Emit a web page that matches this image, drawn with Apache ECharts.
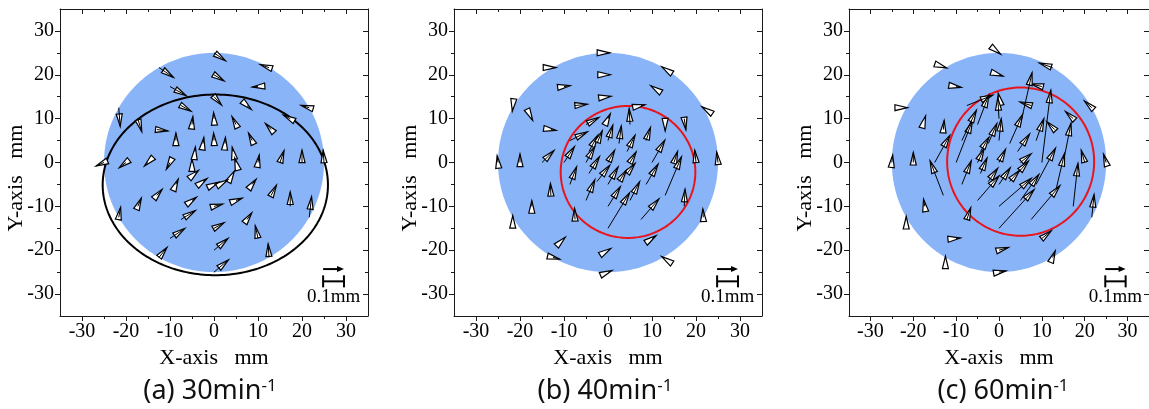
<!DOCTYPE html>
<html>
<head>
<meta charset="utf-8">
<script src="https://cdn.jsdelivr.net/npm/echarts@6/dist/echarts.min.js"></script>
<style>html,body{margin:0;padding:0;background:#fff}#c{width:1149px;height:409px}</style>
</head>
<body>
<div id="c"></div>
<script>
// measurement points (mm): rings r=25,20,15,10,5 (12 points each) + centre
const gridX = [0,12.5,21.65,25,21.65,12.5,0,-12.5,-21.65,-25,-21.65,-12.5,
  0,10,17.32,20,17.32,10,0,-10,-17.32,-20,-17.32,-10,
  0,7.5,12.99,15,12.99,7.5,0,-7.5,-12.99,-15,-12.99,-7.5,
  0,5,8.66,10,8.66,5,0,-5,-8.66,-10,-8.66,-5,
  0,2.5,4.33,5,4.33,2.5,0,-2.5,-4.33,-5,-4.33,-2.5,
  0];
const gridY = [25,21.65,12.5,0,-12.5,-21.65,-25,-21.65,-12.5,0,12.5,21.65,
  20,17.32,10,0,-10,-17.32,-20,-17.32,-10,0,10,17.32,
  15,12.99,7.5,0,-7.5,-12.99,-15,-12.99,-7.5,0,7.5,12.99,
  10,8.66,5,0,-5,-8.66,-10,-8.66,-5,0,5,8.66,
  5,4.33,2.5,0,-2.5,-4.33,-5,-4.33,-2.5,0,2.5,4.33,
  0];
// displacement vectors (micrometres), (a) 30 min-1
const uA = [55,-42,-39,-4,11,-4,69,38,9,-38,7,69,
  48,-27,-32,0,0,-13,67,71,17,-32,19,78,
  36,21,-27,19,25,23,49,68,25,-17,53,48,
  -2,-19,-17,6,19,29,42,21,11,-17,0,4,
  -2,2,-4,-6,6,12,23,19,17,0,2,4,
  null];
const vA = [-38,14,11,59,99,65,59,48,48,-17,-90,-47,
  -29,-2,17,59,69,61,57,48,40,-25,-63,-44,
  -40,-19,29,57,48,32,27,42,29,-17,-6,-27,
  29,38,36,36,25,11,11,15,25,-32,36,38,
  36,29,21,21,11,7,11,14,15,17,21,29,
  null];
// (b) 40 min-1
const uB = [8,-6,-6,-6,-2,-6,19,32,0,-4,-2,13,
  11,-6,8,-6,4,19,13,6,0,0,4,29,
  15,19,0,17,78,86,103,-2,-2,57,25,59,
  11,-4,21,61,57,46,59,42,32,50,84,61,
  23,11,38,29,38,36,48,61,50,42,42,25,
  32];
const vB = [0,4,4,50,40,4,8,-8,8,32,-17,0,
  0,4,-53,59,82,13,8,6,27,40,-8,4,
  2,4,-6,53,185,99,170,53,57,57,-4,6,
  23,76,63,107,97,90,95,99,84,76,42,34,
  74,84,78,50,48,55,84,78,80,76,78,61,
  59];
// (c) 60 min-1
const uC = [8,-65,-36,-13,11,13,34,0,0,4,6,6,
  19,-53,-38,-17,23,46,46,21,-6,0,4,25,
  -4,-55,-38,38,48,141,172,19,-65,74,4,128,
  -6,57,38,44,95,90,158,105,46,80,71,55,
  11,63,59,53,53,48,55,46,32,32,42,42,
  32];
const vC = [-6,21,32,40,109,32,6,6,4,36,0,-2,
  -6,13,34,59,206,36,13,2,34,48,13,-4,
  17,17,38,189,200,162,185,57,166,130,44,50,
  101,248,105,347,173,124,134,118,113,200,145,141,
  105,139,84,42,59,53,80,63,74,67,69,95,
  63];
// outlines: [cx, cy, rx, ry] (mm)
const discOutline = [0, 0, 25, 25];
const ellipseA = [0.3, -5.1, 25.6, 20.6];
const circleB = [4.55, -2.15, 15.3, 15.05];
const circleC = [5.05, 0.2, 17.15, 16.9];
const majorTicks = [-30,-20,-10,0,10,20,30];
const minorTicks = [-25,-15,-5,5,15,25];
const panelTitles = ['(a) 30min', '(b) 40min', '(c) 60min'];
const scaleBarUm = 100;
const scaleBarLabel = '0.1mm';

const VS = 4.75 / 100;      // plot mm per micrometre of displacement
const HL = 12.5, HW = 3.0;  // arrow head length / half width (px)
const SERIF = 'Liberation Serif';
const FRAME = '#1a1a1a';
const GRIDS = [{left:60, top:9, width:308, height:307},
               {left:454, top:9, width:308, height:307},
               {left:849, top:9, width:308, height:307}];

function buildArrows(u, v) {
  const out = [];
  for (let i = 0; i < gridX.length; i++) {
    if (u[i] === null) continue;
    out.push([gridX[i], gridY[i], u[i], v[i]]);
  }
  return out;
}

function arrowItem(params, api) {
  const x = api.value(0), y = api.value(1), u = api.value(2), v = api.value(3);
  const p0 = api.coord([x, y]);
  const p1 = api.coord([x + u * VS, y + v * VS]);
  const dx = p1[0] - p0[0], dy = p1[1] - p0[1];
  const len = Math.hypot(dx, dy) || 1;
  const ux = dx / len, uy = dy / len;
  const bx = p1[0] - ux * HL, by = p1[1] - uy * HL;
  const nx = -uy * HW, ny = ux * HW;
  return {type:'group', children:[
    {type:'polygon', shape:{points:[[p1[0],p1[1]],[bx+nx,by+ny],[bx-nx,by-ny]]},
     style:{fill:'#ffffff', stroke:'#000', lineWidth:1.2, lineJoin:'miter'}},
    {type:'line', shape:{x1:p0[0],y1:p0[1],x2:p1[0],y2:p1[1]},
     style:{stroke:'#000', lineWidth:1}}
  ]};
}

function ellipseSeries(gi, params, fill, stroke, lw) {
  return {type:'custom', xAxisIndex:gi*4, yAxisIndex:gi*4, silent:true,
    data:[params],
    renderItem: function (p, api) {
      const cx = api.value(0), cy = api.value(1), rx = api.value(2), ry = api.value(3);
      const pts = [];
      for (let k = 0; k < 240; k++) {
        const t = k / 240 * Math.PI * 2;
        pts.push(api.coord([cx + rx * Math.cos(t), cy + ry * Math.sin(t)]));
      }
      return {type:'polygon', shape:{points:pts},
        style: fill ? {fill:fill, stroke:null} : {fill:null, stroke:stroke, lineWidth:lw}};
    }};
}

function scaleBarSeries(gi) {
  return {type:'custom', xAxisIndex:gi*4, yAxisIndex:gi*4, silent:true,
    data:[[24.8, scaleBarUm]],
    renderItem: function (p, api) {
      const x0 = api.value(0), L = api.value(1) * VS;
      const a0 = api.coord([x0, -24.3]), a1 = api.coord([x0 + L, -24.3]);
      const b0 = api.coord([x0, -27.1]), b1 = api.coord([x0 + L, -27.1]);
      const t = api.coord([x0 + L / 2, -30.6]);
      return {type:'group', children:[
        {type:'line', shape:{x1:a0[0],y1:a0[1],x2:a1[0]-6,y2:a1[1]}, style:{stroke:'#000', lineWidth:2}},
        {type:'polygon', shape:{points:[[a1[0],a1[1]],[a1[0]-7,a1[1]-3],[a1[0]-7,a1[1]+3]]}, style:{fill:'#000'}},
        {type:'line', shape:{x1:b0[0],y1:b0[1],x2:b1[0],y2:b1[1]}, style:{stroke:'#000', lineWidth:2}},
        {type:'line', shape:{x1:b0[0],y1:b0[1]-6,x2:b0[0],y2:b0[1]+6}, style:{stroke:'#000', lineWidth:2}},
        {type:'line', shape:{x1:b1[0],y1:b1[1]-6,x2:b1[0],y2:b1[1]+6}, style:{stroke:'#000', lineWidth:2}},
        {type:'text', x:t[0], y:t[1], style:{text:scaleBarLabel, fontFamily:SERIF, fontSize:19, fill:'#000', align:'center', verticalAlign:'middle'}}
      ]};
    }};
}

function axesFor(gi, dim) {
  const base = {gridIndex:gi, type:'value', min:-35, max:35, splitLine:{show:false}};
  const ls = {color:FRAME, width:1};
  const p1 = dim === 'x' ? 'bottom' : 'left';
  const p2 = dim === 'x' ? 'top' : 'right';
  const main = Object.assign({}, base, {position:p1,
    axisLine:{show:true, onZero:false, lineStyle:ls},
    axisTick:{show:true, inside:false, length:5, customValues:majorTicks, lineStyle:ls},
    axisLabel:{show:true, customValues:majorTicks, margin:6, color:'#000', fontFamily:SERIF, fontSize:20}});
  if (dim === 'x') {
    main.name = 'X-axis   mm'; main.nameLocation = 'middle'; main.nameGap = 29;
    main.nameTextStyle = {fontFamily:SERIF, fontSize:22, color:'#000'};
  }
  return [main,
    Object.assign({}, base, {position:p1, axisLine:{show:false, onZero:false},
      axisTick:{show:true, inside:false, length:3, customValues:minorTicks, lineStyle:ls}, axisLabel:{show:false}}),
    Object.assign({}, base, {position:p2, axisLine:{show:true, onZero:false, lineStyle:ls},
      axisTick:{show:true, inside:true, length:5, customValues:majorTicks, lineStyle:ls}, axisLabel:{show:false}}),
    Object.assign({}, base, {position:p2, axisLine:{show:false, onZero:false},
      axisTick:{show:true, inside:true, length:3, customValues:minorTicks, lineStyle:ls}, axisLabel:{show:false}})
  ];
}

const xAxis = [], yAxis = [];
for (let g = 0; g < 3; g++) { xAxis.push(...axesFor(g, 'x')); yAxis.push(...axesFor(g, 'y')); }

const arrowSets = [buildArrows(uA, vA), buildArrows(uB, vB), buildArrows(uC, vC)];
const outlines = [[ellipseA, '#000'], [circleB, '#e8141c'], [circleC, '#e8141c']];
const series = [];
for (let g = 0; g < 3; g++) {
  series.push(ellipseSeries(g, discOutline, '#8ab4f8'));
  series.push(ellipseSeries(g, outlines[g][0], null, outlines[g][1], 2));
  series.push({type:'custom', xAxisIndex:g*4, yAxisIndex:g*4, silent:true,
    data:arrowSets[g], renderItem:arrowItem});
  series.push(scaleBarSeries(g));
}

const graphic = [];
const titleX = [210, 605, 1003];
for (let g = 0; g < 3; g++) {
  graphic.push({type:'text', x:GRIDS[g].left - 44, y:178, rotation:Math.PI/2,
    style:{text:'Y-axis   mm', fontFamily:SERIF, fontSize:22, fill:'#000', align:'center', verticalAlign:'middle'}});
  graphic.push({type:'text', x:titleX[g], y:391,
    style:{text:'{m|' + panelTitles[g] + '}{s|-1}', align:'center', verticalAlign:'middle',
      rich:{m:{fontFamily:'Noto Sans', fontSize:27, fill:'#111'},
            s:{fontFamily:'Noto Sans', fontSize:17, fill:'#111', verticalAlign:'top'}}}});
}

const chart = echarts.init(document.getElementById('c'), null, {renderer:'canvas'});
chart.setOption({
  animation:false,
  backgroundColor:'#fff',
  grid:GRIDS,
  xAxis:xAxis, yAxis:yAxis,
  series:series,
  graphic:graphic
});
</script>
</body>
</html>
